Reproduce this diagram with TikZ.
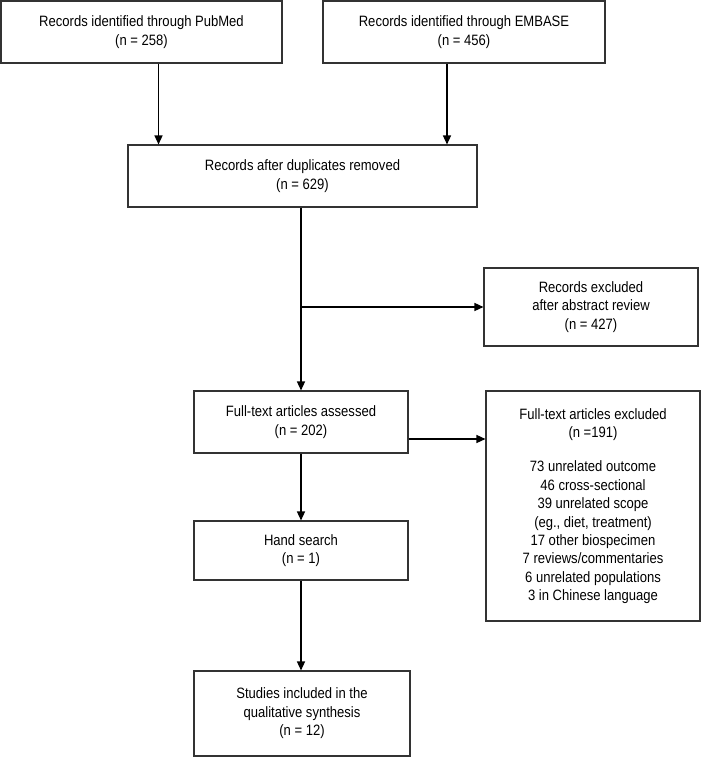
\documentclass[tikz,border=0pt]{standalone}
\usepackage{fontspec}
\setmainfont{Liberation Sans}[FakeStretch=0.87]
\usetikzlibrary{arrows.meta}

\begin{document}
\begin{tikzpicture}[x=1pt, y=-1pt, >={Triangle[length=9pt, width=8pt]},
  box/.style={draw=black!80, line width=1.1pt, align=center, inner sep=2pt,
              font=\fontsize{15}{18.4}\selectfont},
  flow/.style={->, line width=1.4pt}]

  \useasboundingbox (0,0) rectangle (709,757);

  % Identification
  \node[box, minimum width=281pt, minimum height=62pt] (pubmed) at (141.5, 32)
    {Records identified through PubMed\\(n = 258)};
  \node[box, minimum width=282pt, minimum height=62pt] (embase) at (464, 32)
    {Records identified through EMBASE\\(n = 456)};

  % Screening
  \node[box, minimum width=349pt, minimum height=62pt] (dupl) at (302.5, 176)
    {Records after duplicates removed\\(n = 629)};
  \node[box, minimum width=214pt, minimum height=78pt] (exabs) at (591, 307)
    {Records excluded\\after abstract review\\(n = 427)};

  % Eligibility
  \node[box, minimum width=214pt, minimum height=62pt] (fulltext) at (301, 422)
    {Full-text articles assessed\\(n = 202)};
  \node[box, minimum width=214pt, minimum height=230pt] (exfull) at (593, 506)
    {Full-text articles excluded\\(n =191)\\[16pt]73 unrelated outcome\\46 cross-sectional\\
     39 unrelated scope\\(eg., diet, treatment)\\17 other biospecimen\\
     7 reviews/commentaries\\6 unrelated populations\\3 in Chinese language};
  \node[box, minimum width=214pt, minimum height=59pt] (hand) at (301, 550.5)
    {Hand search\\(n = 1)};

  % Included
  \node[box, minimum width=216pt, minimum height=85pt] (incl) at (302, 713.5)
    {Studies included in the\\qualitative synthesis\\(n = 12)};

  % Arrows
  \draw[flow] ([xshift=17pt]pubmed.south) -- ([xshift=17pt]pubmed.south |- dupl.north);
  \draw[flow] ([xshift=-17pt]embase.south) -- ([xshift=-17pt]embase.south |- dupl.north);
  \draw[flow] (fulltext.north |- dupl.south) -- (fulltext.north);
  \draw[flow] (fulltext.north |- exabs.west) -- (exabs.west);
  \draw[flow] ([yshift=-17pt]fulltext.east) -- ([yshift=-17pt]fulltext.east -| exfull.west);
  \draw[flow] (fulltext.south) -- (hand.north);
  \draw[flow] (hand.south) -- (hand.south |- incl.north);
\end{tikzpicture}
\end{document}
